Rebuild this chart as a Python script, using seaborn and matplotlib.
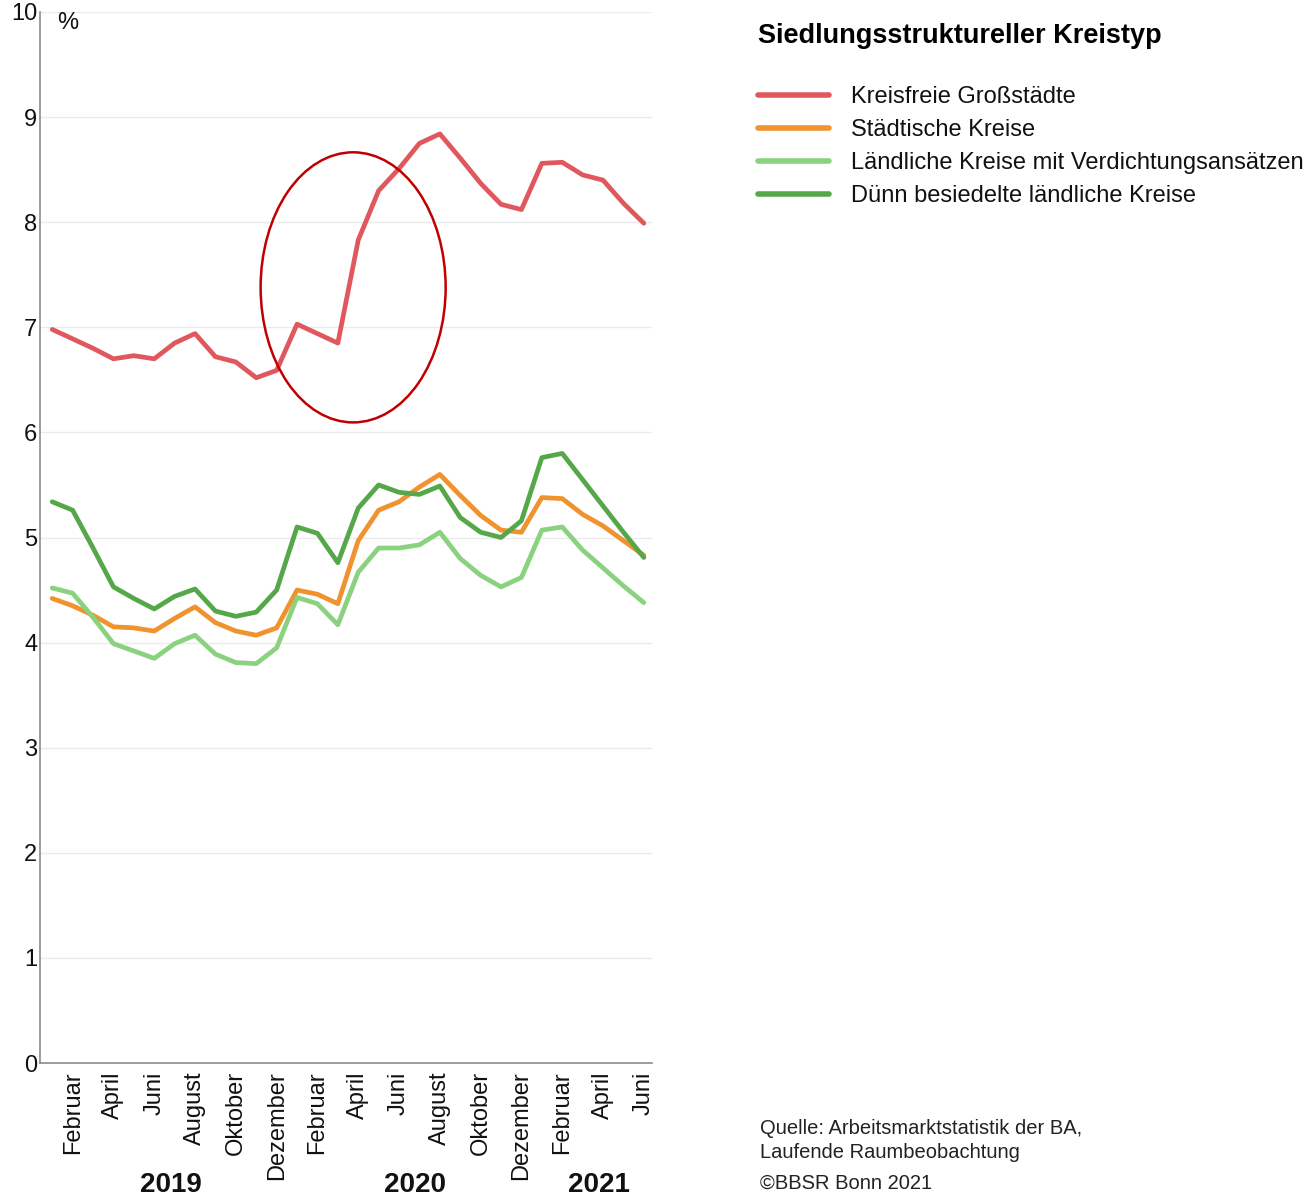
import numpy as np
import pandas as pd
import matplotlib
matplotlib.use('Agg')
import matplotlib.pyplot as plt
import matplotlib.transforms as mtransforms
from matplotlib.patches import Ellipse
from matplotlib.lines import Line2D
import seaborn as sns

# --- data (Arbeitslosenquote in %, Jan 2019 - Jun 2021) ---
months = ['Januar', 'Februar', 'März', 'April', 'Mai', 'Juni', 'Juli', 'August',
          'September', 'Oktober', 'November', 'Dezember']
years = [2019, 2020, 2021]
n_months = 30

kreistypen = ['Kreisfreie Großstädte', 'Städtische Kreise',
              'Ländliche Kreise mit Verdichtungsansätzen', 'Dünn besiedelte ländliche Kreise']

grossstaedte = [6.98, 6.89, 6.80, 6.70, 6.73, 6.70, 6.85, 6.94, 6.72, 6.67, 6.52, 6.59,
                7.03, 6.94, 6.85, 7.83, 8.30, 8.51, 8.75, 8.84, 8.61, 8.37, 8.17, 8.12,
                8.56, 8.57, 8.45, 8.40, 8.18, 7.99]
staedtisch = [4.42, 4.35, 4.26, 4.15, 4.14, 4.11, 4.23, 4.34, 4.19, 4.11, 4.07, 4.14,
              4.50, 4.46, 4.37, 4.97, 5.26, 5.34, 5.48, 5.60, 5.40, 5.21, 5.07, 5.05,
              5.38, 5.37, 5.22, 5.11, 4.97, 4.83]
laendlich_verd = [4.52, 4.47, 4.24, 3.99, 3.92, 3.85, 3.99, 4.07, 3.89, 3.81, 3.80, 3.95,
                  4.43, 4.37, 4.17, 4.67, 4.90, 4.90, 4.93, 5.05, 4.80, 4.64, 4.53, 4.62,
                  5.07, 5.10, 4.88, 4.71, 4.54, 4.38]
duenn = [5.34, 5.26, 4.90, 4.53, 4.42, 4.32, 4.44, 4.51, 4.30, 4.25, 4.29, 4.50,
         5.10, 5.04, 4.76, 5.28, 5.50, 5.43, 5.41, 5.49, 5.19, 5.05, 5.00, 5.16,
         5.76, 5.80, 5.55, 5.30, 5.05, 4.81]

farben = ['#e0585e', '#f0922e', '#8ad27f', '#55a74a']

df = pd.DataFrame({
    'idx': np.tile(np.arange(n_months), 4),
    'wert': grossstaedte + staedtisch + laendlich_verd + duenn,
    'typ': np.repeat(kreistypen, n_months),
})

sns.set_style('white')
plt.rcParams['font.family'] = ['Liberation Sans', 'DejaVu Sans']
plt.rcParams['text.color'] = '#111111'

fig = plt.figure(figsize=(13.12, 11.97), dpi=100)
W, H = 1312, 1197
ax = fig.add_axes([40 / W, 1 - 1063 / H, 612 / W, (1063 - 12) / H])

sns.lineplot(data=df, x='idx', y='wert', hue='typ', hue_order=kreistypen,
             palette=farben, linewidth=3.4, ax=ax, legend=False)

ax.set_xlim(-0.6, 29.4)
ax.set_ylim(0, 10)
ax.set_yticks(range(0, 11))
ax.set_yticklabels([str(v) for v in range(0, 11)])
ax.yaxis.grid(True, color='#ebebeb', linewidth=1)
ax.set_axisbelow(True)
ax.set_xlabel('')
ax.set_ylabel('')

tick_pos = list(range(1, n_months, 2))
ax.set_xticks(tick_pos)
ax.set_xticklabels([months[i % 12] for i in tick_pos], rotation=90, fontsize=17, va='top')
ax.tick_params(axis='x', length=0, pad=6, colors='#111111')
ax.tick_params(axis='y', length=4, width=1, color='#888888', labelsize=17, pad=-2,
               labelcolor='#111111')

for s in ['top', 'right']:
    ax.spines[s].set_visible(False)
for s in ['left', 'bottom']:
    ax.spines[s].set_color('#8c8c8c')
    ax.spines[s].set_linewidth(1.2)

ax.text(0.028, 0.99, '%', transform=ax.transAxes, fontsize=17, va='center', ha='left')

# year labels under the month labels
year_tr = mtransforms.blended_transform_factory(ax.transData, fig.transFigure)
for k, y in enumerate(years):
    idx = [i for i in range(n_months) if i // 12 == k]
    mid = (idx[0] + idx[-1]) / 2 + 0.3
    ax.text(mid, 1 - 1185 / H, str(y), transform=year_tr,
            fontsize=20, fontweight='bold', ha='center', va='center')

# red highlight ellipse
ax.add_patch(Ellipse((14.75, 7.38), 9.07, 2.57, fill=False, edgecolor='#c00000',
                     linewidth=1.8, clip_on=False, zorder=5))

# legend
fig.text(758 / W, 1 - 36 / H, 'Siedlungsstruktureller Kreistyp', fontsize=19.5,
         fontweight='bold', ha='left', va='center', color='black')
handles = [Line2D([0], [0], color=c, linewidth=4, solid_capstyle='round') for c in farben]
fig.legend(handles, kreistypen, loc='upper left', bbox_to_anchor=(758 / W, 1 - 86 / H),
           frameon=False, fontsize=17, handlelength=3.0, handletextpad=0.95,
           labelspacing=0.47, borderpad=0, borderaxespad=0, labelcolor='#111111')

# source
fig.text(760 / W, 1 - 1128 / H, 'Quelle: Arbeitsmarktstatistik der BA,', fontsize=14.5,
         ha='left', va='center', color='#222222')
fig.text(760 / W, 1 - 1153 / H, 'Laufende Raumbeobachtung', fontsize=14.5,
         ha='left', va='center', color='#222222')
fig.text(760 / W, 1 - 1183 / H, '©BBSR Bonn 2021', fontsize=14.5,
         ha='left', va='center', color='#222222')

fig.savefig('out.png', dpi=100, facecolor='white')
plt.close()
